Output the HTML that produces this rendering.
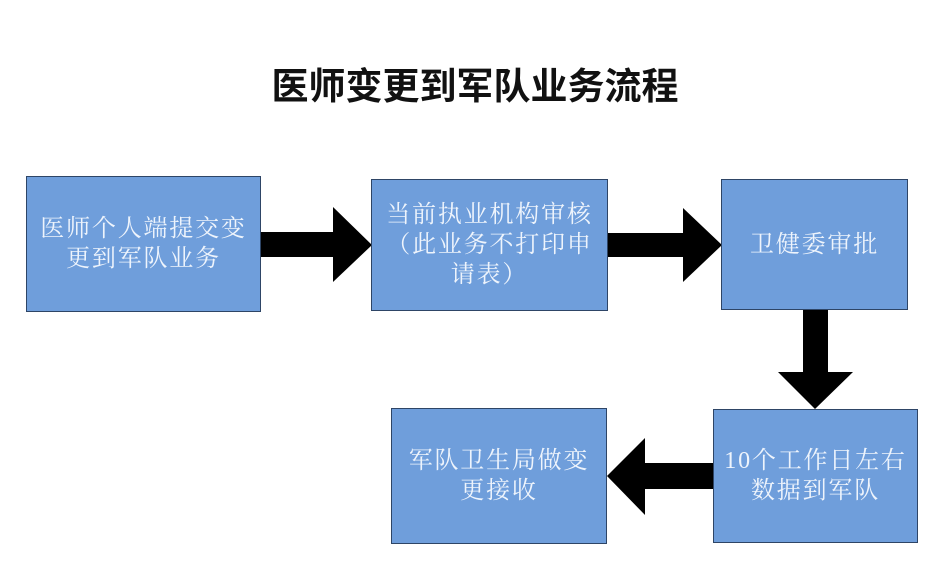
<!DOCTYPE html>
<html>
<head>
<meta charset="utf-8">
<style>
  html, body { margin: 0; padding: 0; }
  body { width: 946px; height: 575px; background: #ffffff; position: relative; overflow: hidden; }
  .title {
    position: absolute; left: 0; width: 950px; top: 62px;
    text-align: center;
    font-family: "Liberation Sans", "Noto Sans CJK SC", sans-serif;
    font-weight: bold; font-size: 37px; line-height: 50px; color: #111;
    letter-spacing: 0px;
  }
  .box {
    position: absolute; box-sizing: border-box;
    background: #6f9edb; border: 1.5px solid #2e4566;
    display: flex; align-items: center; justify-content: center;
    text-align: center;
    font-family: "Liberation Serif", "Noto Serif CJK SC", serif;
    font-size: 24px; line-height: 30px; color: #eef4fc;
    letter-spacing: 1.8px;
  }
  svg { position: absolute; left: 0; top: 0; }
</style>
</head>
<body>
<div class="title">医师变更到军队业务流程</div>

<svg width="946" height="575" viewBox="0 0 946 575">
  <polygon fill="#000" points="259,232 333,232 333,207 372,245 333,282 333,257 259,257"/>
  <polygon fill="#000" points="606,233 683,233 683,208 722,245 683,282 683,257 606,257"/>
  <polygon fill="#000" points="803,308 828,308 828,372 853,372 815,409 778,372 803,372"/>
  <polygon fill="#000" points="715,463 645,463 645,438 607,476 645,515 645,489 715,489"/>
</svg>

<div class="box" style="left:26px;top:176px;width:235px;height:136px;">医师个人端提交变<br>更到军队业务</div>
<div class="box" style="left:371px;top:179px;width:237px;height:132px;">当前执业机构审核<br>（此业务不打印申<br>请表）</div>
<div class="box" style="left:721px;top:179px;width:187px;height:131px;">卫健委审批</div>
<div class="box" style="left:713px;top:409px;width:205px;height:134px;">10个工作日左右<br>数据到军队</div>
<div class="box" style="left:391px;top:408px;width:216px;height:136px;">军队卫生局做变<br>更接收</div>
</body>
</html>
